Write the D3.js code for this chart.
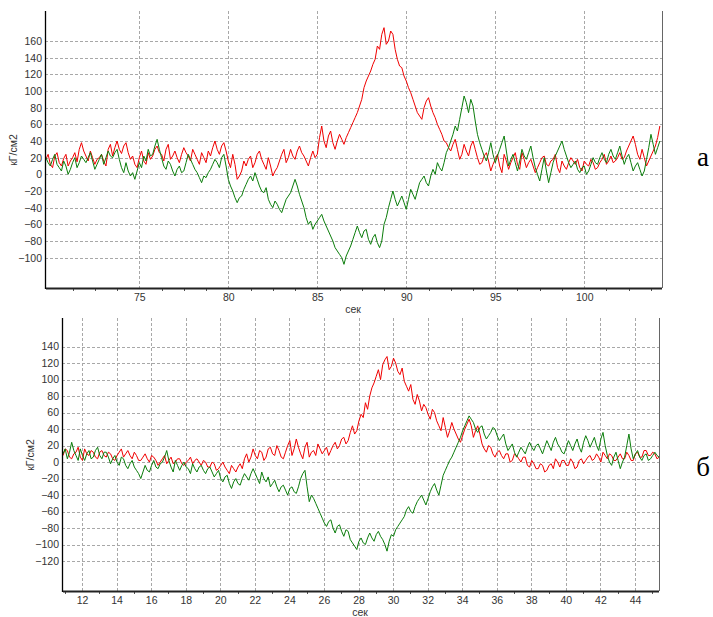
<!DOCTYPE html>
<html>
<head>
<meta charset="utf-8">
<script src="https://cdn.jsdelivr.net/npm/d3@7"></script>
<style>
  body { margin: 0; background: #fff; }
  svg { display: block; }
  .tick text { font-family: Arial, "Liberation Sans", sans-serif; font-size: 10.5px; fill: #333; }
  .grid line { stroke: #a8a8a8; stroke-dasharray: 3,2; }
  .line { fill: none; stroke-width: 1; }
</style>
</head>
<body>
<div id="chart"></div>
<script>
// panel "а": time starts at 69.75 s, one reading every 0.125 s
var timeStartA = 69.75, timeStepA = 0.125;
var redA = [18,24,12,8,22,26,14,10,19,24,10,16,20,26,15,30,38,28,22,16,
    28,20,12,18,20,24,16,10,30,36,22,32,40,30,25,34,38,26,18,22,
    12,8,20,28,16,12,26,18,22,30,34,26,24,16,30,36,18,22,28,20,
    14,24,32,26,22,16,30,24,18,12,26,20,14,28,22,32,40,30,24,34,
    38,28,16,8,24,12,-6,-2,4,16,10,18,22,8,14,24,28,18,12,6,
    20,10,-2,4,8,16,24,30,14,20,30,22,18,28,34,26,22,16,10,20,
    28,20,24,44,58,40,32,46,52,38,30,40,48,42,36,44,50,56,62,68,
    74,82,90,104,112,118,124,132,138,154,150,168,176,156,160,172,168,150,138,130,
    128,118,112,104,98,90,82,74,70,66,80,88,92,82,74,68,60,54,48,40,
    38,32,28,36,42,30,18,24,36,28,22,34,40,30,20,12,14,22,26,16,
    4,12,18,24,10,2,24,16,6,14,20,26,12,6,26,18,8,14,18,10,
    2,8,14,20,22,12,10,16,18,24,8,2,16,10,6,14,20,16,12,18,
    8,4,16,12,10,18,14,6,8,14,18,24,12,16,22,14,16,20,26,18,
    20,28,34,40,46,36,24,18,30,20,10,16,22,28,34,44,
    58];
var greenA = [20,14,10,18,24,12,8,4,16,10,0,6,14,20,8,14,22,18,14,20,
    26,16,6,12,18,24,12,20,28,22,20,26,30,18,8,2,14,4,-2,2,
    -6,4,14,8,22,16,30,22,24,34,42,30,20,10,6,16,12,4,-2,6,
    10,2,4,14,24,18,12,6,2,-4,-10,-2,-4,2,6,12,18,14,8,20,
    24,10,-6,-14,-20,-28,-34,-28,-26,-18,-12,-6,-2,-8,2,-6,-14,-20,-22,-16,
    -30,-36,-40,-32,-36,-42,-46,-38,-30,-26,-22,-14,-6,-14,-24,-32,-40,-52,-60,-56,
    -66,-60,-56,-52,-48,-56,-62,-68,-74,-80,-88,-92,-96,-100,-108,-98,-92,-86,-78,-70,
    -62,-70,-76,-68,-66,-78,-84,-76,-72,-82,-88,-80,-60,-52,-40,-30,-20,-30,-38,-32,
    -26,-34,-42,-30,-18,-24,-30,-20,-10,-6,-2,-10,-14,-2,6,0,14,8,4,14,
    26,32,40,48,58,52,66,80,94,86,74,90,82,64,48,38,30,22,16,26,
    38,24,14,22,30,38,46,28,10,18,24,14,4,16,30,22,18,26,34,20,
    8,0,-8,6,20,4,-10,2,14,22,28,34,40,30,22,14,8,12,16,6,
    2,8,10,0,4,12,20,14,12,20,26,18,14,24,30,22,18,26,34,22,
    12,20,24,14,4,10,14,6,-2,4,18,32,48,36,24,32,
    40];

// panel "б": time starts at 10.9 s, one reading every 0.125 s
var timeStartB = 10.9, timeStepB = 0.125;
var redB = [8,16,14,6,4,10,12,18,6,2,16,10,8,14,12,6,4,12,14,8,
    6,12,10,4,2,8,12,16,6,10,14,8,4,12,8,2,2,6,10,4,
    0,8,6,2,-4,0,4,8,-2,2,6,-2,0,4,4,-2,-4,0,2,6,
    -2,2,4,0,-4,2,0,-6,-6,0,-2,-10,-8,-4,0,-6,-10,-14,-4,-8,
    -12,-6,-2,-8,4,10,0,6,16,8,4,14,12,2,6,16,18,10,8,20,
    14,6,4,12,20,26,8,16,28,18,10,4,18,24,6,12,14,8,22,16,
    10,14,18,8,14,20,24,16,20,28,30,22,26,36,44,34,38,50,58,54,
    72,64,80,90,96,104,112,100,118,124,128,112,116,126,120,110,106,114,98,92,
    86,94,76,70,82,74,62,70,66,58,52,64,60,50,44,38,54,42,30,38,
    48,40,34,28,24,32,40,46,52,44,30,38,44,34,22,16,12,20,18,10,
    6,12,14,8,4,10,10,0,2,10,8,4,0,6,6,-4,-6,2,-2,-8,
    -8,-2,-4,-12,-10,-4,-2,-8,4,0,-6,2,2,-4,-4,4,0,-8,-6,2,
    4,-2,2,6,8,2,4,10,6,0,12,8,4,10,8,2,2,6,10,4,
    4,12,8,2,2,10,12,6,6,14,14,8,8,12,10,4,
    6];
var greenB = [10,16,4,12,24,14,8,2,16,8,2,10,14,4,6,14,18,8,4,12,
    12,6,-2,4,8,0,-4,6,4,-4,-8,-2,2,-6,-10,-14,-20,-12,-4,-10,
    -12,-4,2,-6,-8,-2,0,6,14,2,-6,-12,2,-4,-10,-4,0,-6,-8,-14,
    -2,-8,-12,-6,-4,-10,-14,-8,-6,-12,-18,-14,-10,-20,-24,-18,-16,-26,-32,-24,
    -20,-26,-28,-20,-14,-18,-22,-14,-8,-14,-20,-26,-12,-20,-24,-18,-30,-26,-22,-30,
    -36,-30,-28,-34,-40,-32,-30,-36,-38,-30,-20,-14,-10,-30,-48,-40,-44,-50,-56,-62,
    -68,-74,-78,-72,-70,-80,-86,-78,-76,-84,-90,-82,-84,-94,-98,-102,-106,-96,-92,-98,
    -100,-92,-86,-92,-96,-88,-84,-90,-94,-100,-108,-96,-88,-90,-82,-78,-74,-70,-66,-58,
    -54,-60,-62,-54,-48,-44,-40,-46,-52,-44,-36,-30,-26,-34,-40,-28,-16,-10,-4,2,
    6,12,18,24,30,38,44,50,56,52,48,40,36,42,44,34,28,32,36,42,
    40,32,26,30,34,22,14,18,22,12,6,12,18,14,10,18,24,18,14,20,
    22,16,10,18,26,20,14,24,30,22,18,12,10,18,26,20,14,22,28,18,
    12,24,32,26,18,24,30,20,14,28,36,20,8,0,-4,6,12,2,-8,0,
    6,20,34,16,4,10,14,6,2,8,10,2,4,8,12,8,
    6];

var ticksA = [75, 80, 85, 90, 95, 100];
var ticksB = [12, 14, 16, 18, 20, 22, 24, 26, 28, 30, 32, 34, 36, 38, 40, 42, 44];
var yTicksA = [160, 140, 120, 100, 80, 60, 40, 20, 0, -20, -40, -60, -80, -100];
var yTicksB = [140, 120, 100, 80, 60, 40, 20, 0, -20, -40, -60, -80, -100, -120];

var strokes = ['#f00000', '#0b7d0b'];

var svg = d3.select('#chart').append('svg')
    .attr('width', 713)
    .attr('height', 617);

function drawPanel(p) {
    var g = svg.append('g');

    var x = d3.scaleLinear().domain(p.xDomain).range([p.left, p.right]);
    var y = d3.scaleLinear().domain(p.yDomain).range([p.bottom, p.top]);

    // dashed grid
    var grid = g.append('g').attr('class', 'grid');
    grid.selectAll('.h').data(p.yTicks).enter().append('line')
        .attr('x1', p.left).attr('x2', p.right)
        .attr('y1', function (d) { return Math.round(y(d)) + 0.5; })
        .attr('y2', function (d) { return Math.round(y(d)) + 0.5; });
    grid.selectAll('.v').data(p.xTicks).enter().append('line')
        .attr('y1', p.top).attr('y2', p.bottom)
        .attr('x1', function (d) { return Math.round(x(d)) + 0.5; })
        .attr('x2', function (d) { return Math.round(x(d)) + 0.5; });

    // curves: red first, green over it
    var series = [p.red, p.green];
    for (var i = 0; i < series.length; i++) {
        var vals = series[i];
        var line = d3.line()
            .x(function (d, j) { return x(p.t0 + j * p.step); })
            .y(function (d) { return y(d); });
        g.append('path')
            .datum(vals)
            .attr('class', 'line')
            .style('stroke', strokes[i])
            .attr('d', line);
    }

    // y axis (labels only, line drawn separately)
    var yAxis = g.append('g')
        .attr('transform', 'translate(' + p.left + ',0)')
        .call(d3.axisLeft(y).tickValues(p.yTicks).tickSize(0).tickPadding(3));
    yAxis.select('.domain').remove();

    var xAxis = g.append('g')
        .attr('transform', 'translate(0,' + p.bottom + ')')
        .call(d3.axisBottom(x).tickValues(p.xTicks).tickSize(0).tickPadding(6));
    xAxis.select('.domain').remove();

    // minor ticks under the bottom axis
    g.selectAll('.minor').data(p.minor).enter().append('line')
        .attr('x1', function (d) { return Math.round(x(d)) + 0.5; })
        .attr('x2', function (d) { return Math.round(x(d)) + 0.5; })
        .attr('y1', p.bottom).attr('y2', p.bottom + 3)
        .style('stroke', '#555');

    // frame
    g.append('line')
        .attr('x1', p.left + 0.5).attr('x2', p.left + 0.5)
        .attr('y1', p.top).attr('y2', p.bottom + 1)
        .style('stroke', '#000').style('stroke-width', 1.3);
    g.append('line')
        .attr('x1', p.left + 1).attr('x2', p.right)
        .attr('y1', p.bottom + 0.5).attr('y2', p.bottom + 0.5)
        .style('stroke', '#222').style('stroke-width', 2);
    g.append('line')
        .attr('x1', p.right + 0.5).attr('x2', p.right + 0.5)
        .attr('y1', p.top).attr('y2', p.bottom)
        .style('stroke', '#666');

    g.append('text')
        .attr('x', p.xTitleX).attr('y', p.xTitleY)
        .attr('text-anchor', 'middle')
        .style('font-family', 'Arial, "Liberation Sans", sans-serif')
        .style('font-size', '10.5px').style('fill', '#333')
        .text('сек');

    g.append('text')
        .attr('transform', 'translate(' + p.yTitleX + ',' + p.yTitleY + ') rotate(-90)')
        .attr('text-anchor', 'middle')
        .style('font-family', 'Arial, "Liberation Sans", sans-serif')
        .style('font-size', '10.5px').style('fill', '#333')
        .text('кГ/см2');

    g.append('text')
        .attr('x', 703).attr('y', p.letterY)
        .attr('text-anchor', 'middle')
        .style('font-family', '"Liberation Serif", "DejaVu Serif", serif')
        .style('font-size', '27px').style('fill', '#000')
        .text(p.letter);
}

var minorA = [];
for (var m = 71.25; m < 104.4; m += 1.25) { if (ticksA.indexOf(m) < 0) minorA.push(m); }
var minorB = [];
for (var m = 11; m < 45.4; m += 1) { if (ticksB.indexOf(m) < 0) minorB.push(m); }

drawPanel({
    left: 45, right: 662, top: 11, bottom: 288,
    xDomain: [69.7, 104.37], yDomain: [-136.4, 196],
    t0: timeStartA, step: timeStepA, red: redA, green: greenA,
    xTicks: ticksA, yTicks: yTicksA, minor: minorA,
    xTitleX: 353, xTitleY: 313, yTitleX: 17, yTitleY: 150,
    letter: 'а', letterY: 166
});

drawPanel({
    left: 62, right: 659, top: 318, bottom: 591,
    xDomain: [10.84, 45.39], yDomain: [-156.3, 174.7],
    t0: timeStartB, step: timeStepB, red: redB, green: greenB,
    xTicks: ticksB, yTicks: yTicksB, minor: minorB,
    xTitleX: 360, xTitleY: 616, yTitleX: 34, yTitleY: 455,
    letter: 'б', letterY: 476
});
</script>
</body>
</html>
